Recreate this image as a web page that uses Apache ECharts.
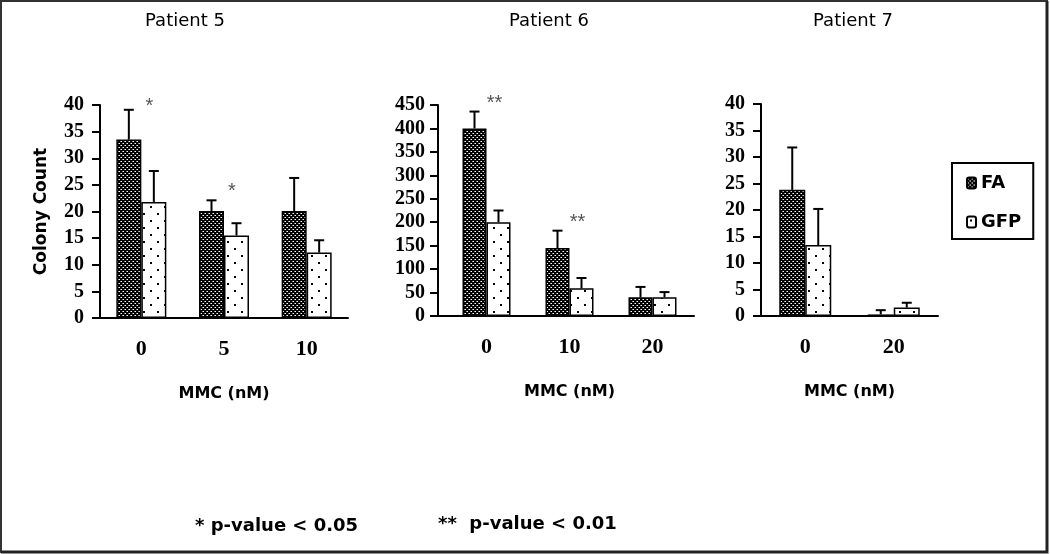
<!DOCTYPE html>
<html>
<head>
<meta charset="utf-8">
<script src="https://cdn.jsdelivr.net/npm/echarts@6.0.0/dist/echarts.min.js"></script>
<style>
html,body{margin:0;padding:0;background:#fff;}
#chart{width:1050px;height:554px;}
</style>
</head>
<body>
<div id="chart"></div>
<script>
// ---- data ----
const seriesNames = ['FA', 'GFP'];
const panelTitles = ['Patient 5', 'Patient 6', 'Patient 7'];
const xAxisName = 'MMC (nM)';
const yAxisName = 'Colony Count';

const p5Categories = ['0', '5', '10'];
const p5FA = [33.5, 20.1, 20.1];
const p5FAErr = [5.6, 2.0, 6.2];
const p5GFP = [21.8, 15.5, 12.3];
const p5GFPErr = [5.8, 2.3, 2.3];
const p5SigCats = [0, 1];
const p5SigValues = [40.3, 24.4];
const p5SigLabels = ['*', '*'];

const p6Categories = ['0', '10', '20'];
const p6FA = [400, 145, 40];
const p6FAErr = [36, 37, 22];
const p6GFP = [200, 59, 40];
const p6GFPErr = [25, 22, 11];
const p6SigCats = [0, 1];
const p6SigValues = [460, 205];
const p6SigLabels = ['**', '**'];

const p7Categories = ['0', '20'];
const p7FA = [23.8, 0.3];
const p7FAErr = [8.0, 0.8];
const p7GFP = [13.4, 1.6];
const p7GFPErr = [6.8, 0.9];

const yMax = [40, 450, 40];
const yInterval = [5, 50, 5];

const footnotes = ['* p-value < 0.05', '**  p-value < 0.01'];

// ---- patterns ----
function makeFA() {
  const c = document.createElement('canvas');
  c.width = 4; c.height = 4;
  const g = c.getContext('2d');
  g.fillStyle = '#000'; g.fillRect(0, 0, 4, 4);
  g.fillStyle = '#fff';
  g.fillRect(1, 1, 1, 1); g.fillRect(3, 3, 1, 1);
  g.fillStyle = '#888';
  g.fillRect(0, 1, 1, 1); g.fillRect(2, 3, 1, 1);
  return c;
}
function makeGFP() {
  const c = document.createElement('canvas');
  c.width = 14; c.height = 14;
  const g = c.getContext('2d');
  g.fillStyle = '#fff'; g.fillRect(0, 0, 14, 14);
  g.fillStyle = '#000';
  g.fillRect(3, 3, 2, 2); g.fillRect(10, 10, 2, 2);
  return c;
}
const faFill = { image: makeFA(), repeat: 'repeat' };
const gfpFill = { image: makeGFP(), repeat: 'repeat' };

// ---- layout ----
const grids = [
  { left: 100, top: 105, width: 248, height: 213 },
  { left: 445, top: 105, width: 249, height: 211 },
  { left: 761, top: 104, width: 177, height: 212 }
];
const barWidths = [25, 24, 26];
const yOffsets = [0, 7, 0];
const labelMargins = [16, 13, 16];

const panels = [
  { cats: p5Categories, fa: p5FA, faErr: p5FAErr, gfp: p5GFP, gfpErr: p5GFPErr, sigC: p5SigCats, sigV: p5SigValues, sigL: p5SigLabels },
  { cats: p6Categories, fa: p6FA, faErr: p6FAErr, gfp: p6GFP, gfpErr: p6GFPErr, sigC: p6SigCats, sigV: p6SigValues, sigL: p6SigLabels },
  { cats: p7Categories, fa: p7FA, faErr: p7FAErr, gfp: p7GFP, gfpErr: p7GFPErr, sigC: [], sigV: [], sigL: [] }
];

const xAxes = [], yAxes = [], series = [];
panels.forEach((p, i) => {
  xAxes.push({
    type: 'category', gridIndex: i, data: p.cats,
    axisLine: { lineStyle: { color: '#000', width: 2 } },
    axisTick: { length: 7, lineStyle: { color: '#000', width: 2 } },
    axisLabel: { margin: 20, color: '#000', fontFamily: 'Liberation Serif', fontWeight: 'bold', fontSize: 22 },
    name: xAxisName, nameLocation: 'middle', nameGap: 68,
    nameTextStyle: { color: '#000', fontFamily: 'DejaVu Sans', fontWeight: 'bold', fontSize: 16 }
  });
  const ya = {
    type: 'value', gridIndex: i, min: 0, max: yMax[i], interval: yInterval[i],
    offset: yOffsets[i],
    splitLine: { show: false },
    axisLine: { show: true, lineStyle: { color: '#000', width: 2 } },
    axisTick: { show: true, length: 8, lineStyle: { color: '#000', width: 2 } },
    axisLabel: { margin: labelMargins[i], color: '#000', fontFamily: 'Liberation Serif', fontWeight: 'bold', fontSize: 20 }
  };
  if (i === 0) {
    ya.name = yAxisName; ya.nameLocation = 'middle'; ya.nameGap = 50;
    ya.nameTextStyle = { color: '#000', fontFamily: 'DejaVu Sans', fontWeight: 'bold', fontSize: 17 };
  }
  yAxes.push(ya);
  const bw = barWidths[i];
  series.push({
    type: 'bar', name: seriesNames[0], xAxisIndex: i, yAxisIndex: i, data: p.fa,
    barWidth: bw, barGap: '0%',
    itemStyle: { color: faFill, borderColor: '#000', borderWidth: 1.5 }, silent: true
  });
  series.push({
    type: 'bar', name: seriesNames[1], xAxisIndex: i, yAxisIndex: i, data: p.gfp,
    barWidth: bw, barGap: '0%',
    itemStyle: { color: gfpFill, borderColor: '#000', borderWidth: 1.5 }, silent: true
  });
  [[p.fa, p.faErr, -bw / 2], [p.gfp, p.gfpErr, bw / 2]].forEach(([vals, errs, dx]) => {
    series.push({
      type: 'custom', xAxisIndex: i, yAxisIndex: i, silent: true, z: 5,
      data: vals.map((v, k) => [k, v, errs[k]]),
      renderItem: function (params, api) {
        const c = api.value(0), v = api.value(1), e = api.value(2);
        const b = api.coord([c, v]);
        const t = api.coord([c, v + e]);
        const x = b[0] + dx;
        return {
          type: 'group', children: [
            { type: 'line', shape: { x1: x, y1: b[1], x2: x, y2: t[1] }, style: { stroke: '#000', lineWidth: 2 } },
            { type: 'line', shape: { x1: x - 5, y1: t[1], x2: x + 5, y2: t[1] }, style: { stroke: '#000', lineWidth: 2 } }
          ]
        };
      }
    });
  });
  if (p.sigC.length) {
    series.push({
      type: 'custom', xAxisIndex: i, yAxisIndex: i, silent: true, z: 6,
      data: p.sigC.map((c, k) => [c, p.sigV[k], k]),
      renderItem: function (params, api) {
        const pt = api.coord([api.value(0), api.value(1)]);
        return {
          type: 'text', x: pt[0] + 8, y: pt[1] + 3,
          style: { text: p.sigL[api.value(2)], textAlign: 'center', textVerticalAlign: 'middle',
                   font: '20px "Liberation Sans"', fill: '#555' }
        };
      }
    });
  }
});

const titleX = [185, 549, 853];
const graphic = [
  { type: 'rect', shape: { x: 1, y: 1, width: 1046, height: 551 }, style: { fill: 'none', stroke: '#333', lineWidth: 2 }, silent: true },
  { type: 'polyline', shape: { points: [[1047, 1], [1047, 552], [1, 552]] }, style: { fill: 'none', stroke: '#222', lineWidth: 3 }, silent: true },
  { type: 'line', shape: { x1: 437, y1: 316, x2: 445, y2: 316 }, style: { stroke: '#000', lineWidth: 2 }, silent: true }
];
panelTitles.forEach((t, i) => {
  graphic.push({ type: 'text', x: titleX[i], y: 21, style: { text: t, textAlign: 'center', textVerticalAlign: 'middle', font: '18px "DejaVu Sans"', fill: '#000' } });
});
graphic.push({ type: 'text', x: 195, y: 526, style: { text: footnotes[0], textAlign: 'left', textVerticalAlign: 'middle', font: 'bold 18px "DejaVu Sans"', fill: '#000' } });
graphic.push({ type: 'text', x: 438, y: 524, style: { text: footnotes[1], textAlign: 'left', textVerticalAlign: 'middle', font: 'bold 18px "DejaVu Sans"', fill: '#000' } });

const chart = echarts.init(document.getElementById('chart'), null, { renderer: 'canvas' });
chart.setOption({
  animation: false,
  backgroundColor: '#fff',
  grid: grids,
  xAxis: xAxes,
  yAxis: yAxes,
  legend: {
    data: seriesNames, orient: 'vertical', left: 952, top: 163,
    padding: [11, 12, 8, 14], itemGap: 21, itemWidth: 9, itemHeight: 11,
    borderColor: '#000', borderWidth: 2, selectedMode: false,
    textStyle: { color: '#000', fontFamily: 'DejaVu Sans', fontWeight: 'bold', fontSize: 18 }
  },
  graphic: graphic,
  series: series
});
</script>
</body>
</html>
